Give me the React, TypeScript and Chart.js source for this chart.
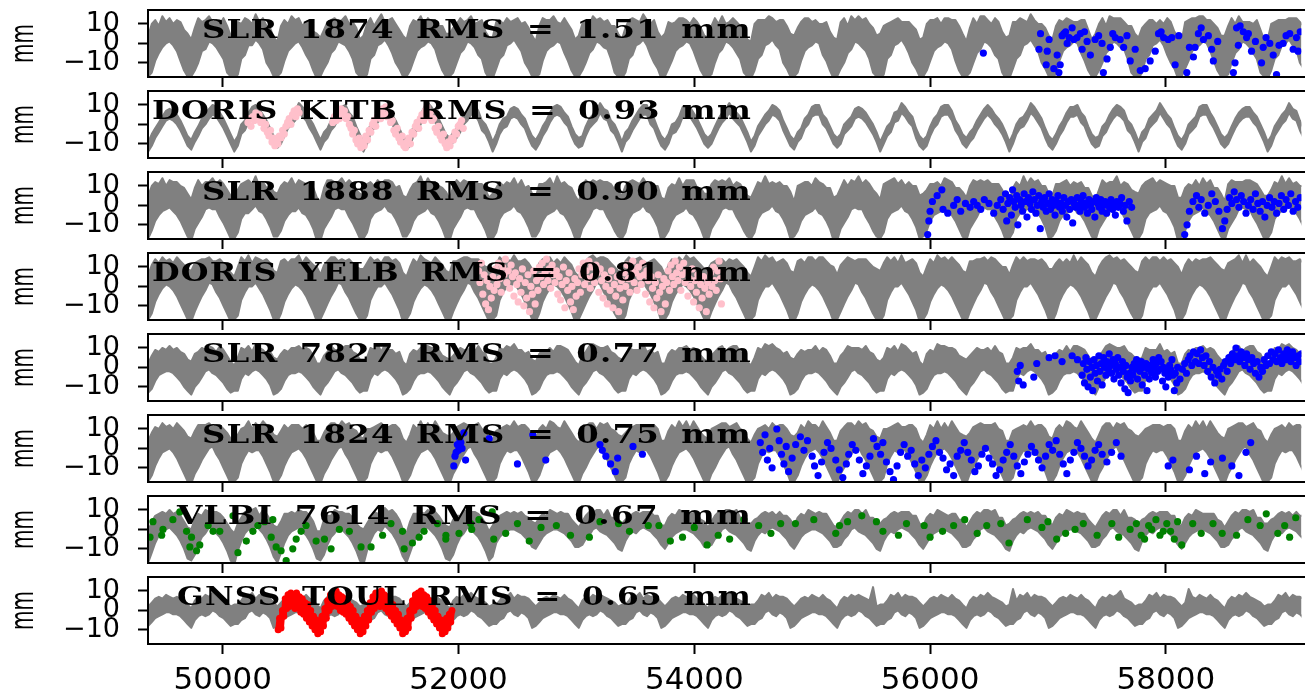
import React, { useEffect, useRef } from 'react';
import { Chart, registerables } from 'chart.js';

Chart.register(...registerables);

// ---------- axes ----------
const X_MIN = 49366;
const X_MAX = 59150;
const X_TICKS = [50000, 52000, 54000, 56000, 58000];
const Y_TICKS = [-10, 0, 10];
const Y_MIN = -17.3;
const Y_MAX = 17.2;

// ---------- time grid (MJD of 1 Jan, 1994..2020; mid-month day offsets) ----------
const YEAR_START_MJD = [49353, 49718, 50083, 50449, 50814, 51179, 51544, 51910, 52275, 52640, 53005, 53371, 53736, 54101, 54466, 54832, 55197, 55562, 55927, 56293, 56658, 57023, 57388, 57754, 58119, 58484, 58849];
const MONTH_DAY = [15, 45, 74, 105, 135, 166, 196, 227, 258, 288, 319, 349];

// ---------- model (gray) series: monthly upper / lower envelope of the daily model, mm ----------
const hiP1 = [
  4, 10, 12, 9, 14, 11, 13, 10, 12, 11, 7, 5,
  2, 8, 13, 11, 12, 14, 11, 12, 10, 13, 9, 4,
  5, 11, 10, 13, 12, 10, 15, 11, 13, 9, 8, 3,
  1, 9, 12, 10, 14, 12, 13, 9, 11, 12, 6, 5,
  3, 7, 11, 12, 13, 11, 12, 14, 10, 11, 8, 2,
  4, 10, 13, 9, 12, 15, 11, 12, 13, 10, 7, 4,
  2, 9, 12, 11, 14, 10, 13, 11, 12, 9, 9, 5,
  5, 8, 10, 13, 11, 12, 14, 10, 11, 12, 6, 3,
  3, 11, 12, 10, 13, 11, 12, 13, 10, 11, 8, 4,
  1, 9, 13, 12, 12, 14, 11, 10, 13, 10, 7, 2,
  4, 10, 11, 9, 14, 12, 13, 11, 12, 9, 9, 5,
  2, 8, 12, 13, 12, 11, 15, 12, 10, 12, 6, 3,
  5, 11, 10, 11, 13, 13, 12, 10, 13, 11, 8, 4,
  3, 9, 13, 10, 14, 10, 11, 13, 11, 9, 7, 2,
  1, 10, 12, 12, 12, 14, 13, 11, 12, 12, 9, 5,
  4, 8, 11, 13, 13, 11, 12, 10, 10, 11, 6, 3,
  2, 11, 13, 9, 14, 12, 14, 12, 13, 10, 8, 4,
  5, 9, 10, 11, 12, 13, 11, 11, 11, 9, 7, 2,
  3, 10, 12, 12, 13, 10, 13, 13, 12, 12, 9, 5,
  1, 8, 13, 10, 14, 14, 12, 10, 13, 11, 6, 3,
  4, 11, 11, 13, 12, 11, 15, 12, 10, 10, 8, 4,
  2, 9, 12, 11, 13, 12, 11, 11, 12, 12, 7, 2,
  5, 10, 13, 9, 14, 13, 13, 13, 11, 9, 9, 5,
  3, 8, 10, 12, 12, 10, 12, 10, 13, 11, 6, 3,
  1, 11, 12, 13, 13, 14, 14, 12, 12, 10, 8, 4,
  4, 9, 13, 10, 14, 11, 11, 11, 10, 12, 7, 2,
  2, 10, 11, 12, 12, 12, 13, 13, 13, 11, 9, 5,
];
const loP1 = [
  -17, -15, -9, -5, -2, 0, 1, -1, -4, -9, -14, -17,
  -17, -14, -10, -4, -3, 1, 0, -2, -5, -8, -15, -17,
  -18, -16, -8, -6, -1, -1, 2, 0, -3, -10, -13, -17,
  -17, -15, -9, -4, -2, 0, 1, -2, -6, -9, -14, -18,
  -17, -13, -10, -5, -3, 1, 0, -1, -4, -8, -15, -17,
  -18, -16, -8, -6, -1, 0, 2, -1, -5, -10, -13, -17,
  -17, -14, -9, -4, -2, -1, 1, 0, -3, -9, -14, -17,
  -17, -15, -10, -5, -3, 1, 0, -2, -6, -8, -15, -18,
  -18, -13, -8, -6, -1, 0, 2, -1, -4, -10, -13, -17,
  -17, -16, -9, -4, -2, -1, 1, 0, -5, -9, -14, -17,
  -17, -14, -10, -5, -3, 1, 0, -2, -3, -8, -15, -17,
  -18, -15, -8, -6, -1, 0, 2, -1, -6, -10, -13, -18,
  -17, -13, -9, -4, -2, -1, 1, 0, -4, -9, -14, -17,
  -17, -16, -10, -5, -3, 1, 0, -2, -5, -8, -15, -17,
  -18, -14, -8, -6, -1, 0, 2, -1, -3, -10, -13, -17,
  -17, -15, -9, -4, -2, -1, 1, 0, -6, -9, -14, -18,
  -17, -13, -10, -5, -3, 1, 0, -2, -4, -8, -15, -17,
  -18, -16, -8, -6, -1, 0, 2, -1, -5, -10, -13, -17,
  -17, -14, -9, -4, -2, -1, 1, 0, -3, -9, -14, -17,
  -17, -15, -10, -5, -3, 1, 0, -2, -6, -8, -15, -18,
  -18, -13, -8, -6, -1, 0, 2, -1, -4, -10, -13, -17,
  -17, -16, -9, -4, -2, -1, 1, 0, -5, -9, -14, -17,
  -17, -14, -10, -5, -3, 1, 0, -2, -3, -8, -15, -17,
  -18, -15, -8, -6, -1, 0, 2, -1, -6, -10, -13, -18,
  -17, -13, -9, -4, -2, -1, 1, 0, -4, -9, -14, -17,
  -17, -16, -10, -5, -3, 1, 0, -2, -5, -8, -15, -17,
  -18, -14, -8, -6, -1, 0, 2, -1, -3, -10, -13, -17,
];

const hiP2 = [
  -9, -5, -2, 1, 4, 7, 8, 7, 5, 2, -2, -6,
  -8, -4, -1, 3, 5, 8, 10, 9, 6, 3, -1, -5,
  -9, -6, 0, 2, 6, 9, 10, 8, 5, 2, -2, -6,
  -7, -5, -1, 3, 5, 7, 11, 9, 7, 3, 0, -4,
  -8, -4, -2, 2, 4, 8, 9, 10, 6, 4, -1, -5,
  -9, -5, 0, 3, 6, 8, 10, 8, 5, 2, -2, -6,
  -8, -6, -1, 2, 5, 9, 11, 9, 6, 3, -1, -5,
  -7, -4, -2, 1, 5, 7, 10, 10, 7, 2, 0, -4,
  -9, -5, 0, 3, 4, 8, 9, 8, 5, 3, -2, -6,
  -8, -5, -1, 2, 6, 9, 10, 9, 6, 4, -1, -5,
  -7, -6, -1, 3, 5, 7, 11, 8, 7, 2, 0, -4,
  -9, -4, -2, 2, 5, 8, 10, 10, 5, 3, -2, -6,
  -8, -5, 0, 1, 4, 9, 9, 9, 6, 3, -1, -5,
  -7, -5, -1, 3, 6, 8, 11, 8, 6, 4, 0, -4,
  -9, -6, -1, 2, 5, 7, 10, 9, 7, 2, -2, -6,
  -8, -4, -2, 3, 5, 9, 10, 10, 5, 3, -1, -5,
  -7, -5, 0, 2, 4, 8, 9, 8, 6, 3, 0, -4,
  -9, -5, -1, 1, 6, 7, 11, 9, 6, 4, -2, -6,
  -8, -6, -1, 3, 5, 9, 10, 10, 7, 2, -1, -5,
  -7, -4, -2, 2, 5, 8, 10, 8, 5, 3, 0, -4,
  -9, -5, 0, 3, 4, 7, 11, 9, 6, 3, -2, -6,
  -8, -5, -1, 2, 6, 9, 9, 10, 6, 4, -1, -5,
  -7, -6, -1, 1, 5, 8, 10, 9, 7, 2, 0, -4,
  -9, -4, -2, 3, 5, 7, 11, 8, 5, 3, -2, -6,
  -8, -5, 0, 2, 4, 9, 10, 10, 6, 3, -1, -5,
  -7, -5, -1, 3, 6, 8, 9, 9, 6, 4, 0, -4,
  -9, -6, -1, 2, 5, 7, 11, 8, 7, 2, -2, -6,
];
const loP2 = [
  -14, -11, -7, -4, -1, 2, 3, 2, 0, -3, -7, -11,
  -13, -9, -6, -2, 0, 3, 5, 4, 1, -2, -6, -10,
  -14, -11, -5, -3, 1, 4, 5, 3, 0, -3, -7, -11,
  -12, -10, -6, -2, 0, 2, 6, 4, 2, -2, -5, -9,
  -13, -9, -7, -3, -1, 3, 4, 5, 1, -1, -6, -10,
  -14, -10, -5, -2, 1, 3, 5, 3, 0, -3, -7, -11,
  -13, -11, -6, -3, 0, 4, 6, 4, 1, -2, -6, -10,
  -12, -9, -7, -4, 0, 2, 5, 5, 2, -3, -5, -9,
  -14, -10, -5, -2, -1, 3, 4, 3, 0, -2, -7, -11,
  -13, -10, -6, -3, 1, 4, 5, 4, 1, -1, -6, -10,
  -12, -11, -6, -2, 0, 2, 6, 3, 2, -3, -5, -9,
  -14, -9, -7, -3, 0, 3, 5, 5, 0, -2, -7, -11,
  -13, -10, -5, -4, -1, 4, 4, 4, 1, -2, -6, -10,
  -12, -10, -6, -2, 1, 3, 6, 3, 1, -1, -5, -9,
  -14, -11, -6, -3, 0, 2, 5, 4, 2, -3, -7, -11,
  -13, -9, -7, -2, 0, 4, 5, 5, 0, -2, -6, -10,
  -12, -10, -5, -3, -1, 3, 4, 3, 1, -2, -5, -9,
  -14, -10, -6, -4, 1, 2, 6, 4, 1, -1, -7, -11,
  -13, -11, -6, -2, 0, 4, 5, 5, 2, -3, -6, -10,
  -12, -9, -7, -3, 0, 3, 5, 3, 0, -2, -5, -9,
  -14, -10, -5, -2, -1, 2, 6, 4, 1, -2, -7, -11,
  -13, -10, -6, -3, 1, 4, 4, 5, 1, -1, -6, -10,
  -12, -11, -6, -4, 0, 3, 5, 4, 2, -3, -5, -9,
  -14, -9, -7, -2, 0, 2, 6, 3, 0, -2, -7, -11,
  -13, -10, -5, -3, -1, 4, 5, 5, 1, -2, -6, -10,
  -12, -10, -6, -2, 1, 3, 4, 4, 1, -1, -5, -9,
  -14, -11, -6, -3, 0, 2, 6, 3, 2, -3, -7, -11,
];

const hiP3 = [
  5, 10, 12, 11, 14, 10, 13, 12, 12, 10, 9, 6,
  3, 9, 13, 10, 12, 12, 14, 11, 13, 11, 8, 5,
  4, 8, 11, 12, 13, 11, 15, 10, 12, 9, 10, 7,
  6, 10, 12, 11, 14, 10, 13, 12, 11, 10, 9, 4,
  2, 9, 13, 13, 12, 12, 14, 11, 13, 11, 8, 6,
  5, 11, 12, 10, 13, 11, 13, 13, 12, 9, 10, 5,
  4, 8, 11, 12, 15, 10, 14, 11, 12, 10, 9, 7,
  3, 10, 13, 11, 13, 12, 12, 12, 11, 11, 8, 4,
  6, 9, 12, 10, 12, 11, 14, 10, 13, 9, 10, 6,
  4, 11, 11, 12, 14, 10, 15, 11, 12, 10, 9, 5,
  2, 8, 13, 11, 13, 12, 13, 12, 12, 11, 8, 7,
  5, 10, 12, 13, 12, 11, 14, 11, 11, 10, 10, 4,
  3, 9, 11, 10, 14, 10, 13, 13, 13, 9, 9, 6,
  6, 11, 13, 12, 13, 12, 14, 10, 12, 11, 8, 5,
  4, 8, 12, 11, 15, 11, 12, 11, 12, 10, 10, 7,
  2, 10, 11, 12, 12, 10, 14, 12, 11, 9, 9, 4,
  5, 9, 13, 10, 13, 12, 15, 11, 13, 11, 8, 6,
  3, 11, 12, 13, 14, 11, 13, 10, 12, 10, 10, 5,
  6, 8, 11, 11, 12, 10, 14, 13, 12, 9, 9, 7,
  4, 10, 13, 12, 13, 12, 13, 11, 11, 11, 8, 4,
  2, 9, 12, 10, 15, 11, 14, 12, 13, 10, 10, 6,
  5, 11, 11, 12, 13, 10, 12, 11, 12, 9, 9, 5,
  3, 8, 13, 11, 12, 12, 15, 10, 12, 11, 8, 7,
  6, 10, 12, 13, 14, 11, 13, 12, 11, 10, 10, 4,
  4, 9, 11, 10, 13, 10, 14, 11, 13, 9, 9, 6,
  2, 11, 13, 12, 12, 12, 13, 13, 12, 11, 8, 5,
  5, 8, 12, 11, 15, 11, 14, 11, 12, 10, 10, 7,
];
const loP3 = [
  -17, -13, -8, -5, -3, -2, -1, -3, -5, -8, -12, -16,
  -18, -12, -9, -6, -2, -1, -2, -2, -6, -9, -13, -17,
  -17, -14, -7, -4, -4, -2, 0, -3, -4, -7, -11, -16,
  -16, -13, -8, -5, -3, -3, -1, -4, -5, -8, -12, -18,
  -18, -12, -9, -6, -2, -1, -2, -2, -6, -9, -13, -17,
  -17, -14, -7, -4, -3, -2, 0, -3, -4, -7, -11, -16,
  -16, -13, -8, -5, -4, -3, -1, -4, -5, -8, -12, -17,
  -18, -12, -9, -6, -2, -1, -2, -2, -6, -9, -13, -18,
  -17, -14, -7, -4, -3, -2, 0, -3, -4, -7, -11, -16,
  -16, -13, -8, -5, -4, -3, -1, -4, -5, -8, -12, -17,
  -18, -12, -9, -6, -2, -1, -2, -2, -6, -9, -13, -16,
  -17, -14, -7, -4, -3, -2, 0, -3, -4, -7, -11, -18,
  -16, -13, -8, -5, -4, -3, -1, -4, -5, -8, -12, -17,
  -18, -12, -9, -6, -2, -1, -2, -2, -6, -9, -13, -16,
  -17, -14, -7, -4, -3, -2, 0, -3, -4, -7, -11, -17,
  -16, -13, -8, -5, -4, -3, -1, -4, -5, -8, -12, -18,
  -18, -12, -9, -6, -2, -1, -2, -2, -6, -9, -13, -16,
  -17, -14, -7, -4, -3, -2, 0, -3, -4, -7, -11, -17,
  -16, -13, -8, -5, -4, -3, -1, -4, -5, -8, -12, -16,
  -18, -12, -9, -6, -2, -1, -2, -2, -6, -9, -13, -18,
  -17, -14, -7, -4, -3, -2, 0, -3, -4, -7, -11, -17,
  -16, -13, -8, -5, -4, -3, -1, -4, -5, -8, -12, -16,
  -18, -12, -9, -6, -2, -1, -2, -2, -6, -9, -13, -17,
  -17, -14, -7, -4, -3, -2, 0, -3, -4, -7, -11, -18,
  -16, -13, -8, -5, -4, -3, -1, -4, -5, -8, -12, -16,
  -18, -12, -9, -6, -2, -1, -2, -2, -6, -9, -13, -17,
  -17, -14, -7, -4, -3, -2, 0, -3, -4, -7, -11, -16,
];

const hiP4 = [
  6, 11, 14, 12, 15, 13, 14, 12, 15, 13, 11, 9,
  8, 12, 13, 14, 14, 15, 13, 13, 14, 12, 10, 7,
  5, 10, 15, 13, 16, 12, 15, 14, 13, 14, 12, 8,
  7, 13, 14, 12, 14, 14, 16, 12, 15, 13, 11, 10,
  6, 11, 13, 15, 15, 13, 14, 13, 14, 12, 10, 9,
  9, 12, 15, 13, 14, 12, 15, 15, 13, 14, 12, 7,
  5, 10, 14, 12, 16, 14, 13, 12, 15, 13, 11, 8,
  7, 13, 13, 14, 15, 15, 14, 14, 14, 12, 10, 10,
  6, 11, 15, 13, 14, 13, 16, 13, 13, 14, 12, 9,
  8, 12, 14, 12, 15, 12, 14, 12, 15, 13, 11, 7,
  5, 10, 13, 15, 16, 14, 15, 15, 14, 12, 10, 8,
  7, 13, 15, 13, 14, 15, 13, 12, 13, 14, 12, 10,
  6, 11, 14, 12, 15, 13, 16, 14, 15, 13, 11, 9,
  9, 12, 13, 14, 14, 12, 14, 13, 14, 12, 10, 7,
  5, 10, 15, 13, 16, 14, 15, 12, 13, 14, 12, 8,
  7, 13, 14, 12, 15, 15, 13, 15, 15, 13, 11, 10,
  6, 11, 13, 15, 14, 13, 14, 14, 14, 12, 10, 9,
  8, 12, 15, 13, 15, 12, 16, 12, 13, 14, 12, 7,
  5, 10, 14, 12, 16, 14, 15, 13, 15, 13, 11, 8,
  7, 13, 13, 14, 14, 15, 13, 15, 14, 12, 10, 10,
  6, 11, 15, 13, 15, 13, 14, 14, 13, 14, 12, 9,
  9, 12, 14, 12, 14, 12, 16, 12, 15, 13, 11, 7,
  5, 10, 13, 15, 16, 14, 15, 13, 14, 12, 10, 8,
  7, 13, 15, 13, 15, 15, 13, 15, 13, 14, 12, 10,
  6, 11, 14, 12, 14, 13, 14, 14, 15, 13, 11, 9,
  8, 12, 13, 14, 16, 12, 16, 12, 14, 12, 10, 7,
  5, 10, 15, 13, 15, 14, 15, 13, 13, 14, 12, 8,
];
const loP4 = [
  -17, -14, -8, -4, -1, 1, 0, -2, -5, -9, -13, -17,
  -18, -13, -9, -5, -2, 2, 1, -3, -6, -10, -14, -18,
  -17, -15, -7, -3, 0, 0, 2, -1, -4, -8, -12, -17,
  -18, -14, -8, -4, -1, 1, 0, -2, -5, -9, -13, -18,
  -17, -13, -9, -5, -2, 2, 1, -3, -6, -10, -14, -17,
  -18, -15, -7, -3, 0, 0, 2, -1, -4, -8, -12, -18,
  -17, -14, -8, -4, -1, 1, 0, -2, -5, -9, -13, -17,
  -18, -13, -9, -5, -2, 2, 1, -3, -6, -10, -14, -18,
  -17, -15, -7, -3, 0, 0, 2, -1, -4, -8, -12, -17,
  -18, -14, -8, -4, -1, 1, 0, -2, -5, -9, -13, -18,
  -17, -13, -9, -5, -2, 2, 1, -3, -6, -10, -14, -17,
  -18, -15, -7, -3, 0, 0, 2, -1, -4, -8, -12, -18,
  -17, -14, -8, -4, -1, 1, 0, -2, -5, -9, -13, -17,
  -18, -13, -9, -5, -2, 2, 1, -3, -6, -10, -14, -18,
  -17, -15, -7, -3, 0, 0, 2, -1, -4, -8, -12, -17,
  -18, -14, -8, -4, -1, 1, 0, -2, -5, -9, -13, -18,
  -17, -13, -9, -5, -2, 2, 1, -3, -6, -10, -14, -17,
  -18, -15, -7, -3, 0, 0, 2, -1, -4, -8, -12, -18,
  -17, -14, -8, -4, -1, 1, 0, -2, -5, -9, -13, -17,
  -18, -13, -9, -5, -2, 2, 1, -3, -6, -10, -14, -18,
  -17, -15, -7, -3, 0, 0, 2, -1, -4, -8, -12, -17,
  -18, -14, -8, -4, -1, 1, 0, -2, -5, -9, -13, -18,
  -17, -13, -9, -5, -2, 2, 1, -3, -6, -10, -14, -17,
  -18, -15, -7, -3, 0, 0, 2, -1, -4, -8, -12, -18,
  -17, -14, -8, -4, -1, 1, 0, -2, -5, -9, -13, -17,
  -18, -13, -9, -5, -2, 2, 1, -3, -6, -10, -14, -18,
  -17, -15, -7, -3, 0, 0, 2, -1, -4, -8, -12, -17,
];

const hiP5 = [
  2, 6, 9, 8, 10, 9, 11, 9, 10, 8, 7, 4,
  3, 7, 8, 10, 9, 11, 10, 8, 11, 9, 6, 3,
  1, 5, 10, 9, 11, 8, 12, 10, 9, 7, 8, 5,
  4, 7, 9, 8, 10, 10, 11, 9, 10, 9, 6, 2,
  2, 6, 8, 11, 9, 9, 10, 11, 11, 8, 7, 4,
  3, 5, 10, 9, 12, 8, 12, 9, 9, 7, 8, 3,
  1, 7, 9, 8, 10, 11, 11, 10, 10, 9, 6, 5,
  4, 6, 8, 10, 9, 9, 10, 8, 11, 8, 7, 2,
  2, 5, 10, 9, 11, 10, 12, 9, 9, 7, 8, 4,
  3, 7, 9, 8, 10, 8, 11, 11, 10, 9, 6, 3,
  1, 6, 8, 11, 12, 11, 10, 10, 11, 8, 7, 5,
  4, 5, 10, 9, 9, 9, 12, 8, 9, 7, 8, 2,
  2, 7, 9, 8, 10, 10, 11, 9, 10, 9, 6, 4,
  3, 6, 8, 10, 11, 8, 10, 11, 11, 8, 7, 3,
  1, 5, 10, 9, 12, 11, 12, 10, 9, 7, 8, 5,
  4, 7, 9, 8, 9, 9, 11, 8, 10, 9, 6, 2,
  2, 6, 8, 11, 10, 10, 10, 9, 11, 8, 7, 4,
  3, 5, 10, 9, 11, 8, 12, 11, 9, 7, 8, 3,
  1, 7, 9, 8, 12, 11, 11, 10, 10, 9, 6, 5,
  4, 6, 8, 10, 9, 9, 10, 8, 11, 8, 7, 2,
  2, 5, 10, 9, 10, 10, 12, 9, 9, 7, 8, 4,
  3, 7, 9, 8, 11, 8, 11, 11, 10, 9, 6, 3,
  1, 6, 8, 11, 12, 11, 10, 10, 11, 8, 7, 5,
  4, 5, 10, 9, 9, 9, 12, 8, 9, 7, 8, 2,
  2, 7, 9, 8, 10, 10, 11, 9, 10, 9, 6, 4,
  3, 6, 8, 10, 11, 8, 10, 11, 11, 8, 7, 3,
  1, 5, 10, 9, 12, 11, 12, 10, 9, 7, 8, 5,
];
const loP5 = [
  -13, -11, -7, -4, -3, -2, -2, -3, -5, -7, -10, -12,
  -14, -10, -8, -5, -2, -1, -3, -4, -6, -8, -11, -13,
  -12, -12, -6, -3, -4, -2, -1, -2, -4, -6, -9, -14,
  -13, -11, -7, -4, -3, -3, -2, -3, -5, -7, -10, -12,
  -14, -10, -8, -5, -2, -1, -3, -4, -6, -8, -11, -13,
  -12, -12, -6, -3, -4, -2, -1, -2, -4, -6, -9, -14,
  -13, -11, -7, -4, -3, -3, -2, -3, -5, -7, -10, -12,
  -14, -10, -8, -5, -2, -1, -3, -4, -6, -8, -11, -13,
  -12, -12, -6, -3, -4, -2, -1, -2, -4, -6, -9, -14,
  -13, -11, -7, -4, -3, -3, -2, -3, -5, -7, -10, -12,
  -14, -10, -8, -5, -2, -1, -3, -4, -6, -8, -11, -13,
  -12, -12, -6, -3, -4, -2, -1, -2, -4, -6, -9, -14,
  -13, -11, -7, -4, -3, -3, -2, -3, -5, -7, -10, -12,
  -14, -10, -8, -5, -2, -1, -3, -4, -6, -8, -11, -13,
  -12, -12, -6, -3, -4, -2, -1, -2, -4, -6, -9, -14,
  -13, -11, -7, -4, -3, -3, -2, -3, -5, -7, -10, -12,
  -14, -10, -8, -5, -2, -1, -3, -4, -6, -8, -11, -13,
  -12, -12, -6, -3, -4, -2, -1, -2, -4, -6, -9, -14,
  -13, -11, -7, -4, -3, -3, -2, -3, -5, -7, -10, -12,
  -14, -10, -8, -5, -2, -1, -3, -4, -6, -8, -11, -13,
  -12, -12, -6, -3, -4, -2, -1, -2, -4, -6, -9, -14,
  -13, -11, -7, -4, -3, -3, -2, -3, -5, -7, -10, -12,
  -14, -10, -8, -5, -2, -1, -3, -4, -6, -8, -11, -13,
  -12, -12, -6, -3, -4, -2, -1, -2, -4, -6, -9, -14,
  -13, -11, -7, -4, -3, -3, -2, -3, -5, -7, -10, -12,
  -14, -10, -8, -5, -2, -1, -3, -4, -6, -8, -11, -13,
  -12, -12, -6, -3, -4, -2, -1, -2, -4, -6, -9, -14,
];

const hiP6 = [
  4, 8, 11, 10, 13, 11, 12, 10, 13, 11, 9, 6,
  5, 9, 12, 12, 12, 13, 11, 12, 12, 10, 8, 5,
  3, 7, 10, 11, 14, 10, 13, 11, 14, 12, 10, 7,
  6, 9, 12, 10, 12, 12, 12, 10, 12, 11, 8, 4,
  4, 8, 11, 13, 13, 11, 14, 12, 13, 10, 9, 6,
  5, 10, 10, 11, 12, 13, 11, 11, 12, 12, 10, 5,
  3, 7, 12, 10, 14, 10, 13, 10, 14, 11, 8, 7,
  6, 8, 11, 12, 13, 12, 12, 12, 13, 10, 9, 4,
  4, 9, 10, 11, 12, 11, 14, 11, 12, 12, 10, 6,
  5, 10, 12, 10, 14, 13, 11, 10, 14, 11, 8, 5,
  3, 7, 11, 13, 13, 10, 13, 12, 13, 10, 9, 7,
  6, 8, 10, 11, 12, 12, 12, 11, 12, 12, 10, 4,
  4, 9, 12, 10, 14, 11, 14, 10, 14, 11, 8, 6,
  5, 10, 11, 12, 13, 13, 11, 12, 13, 10, 9, 5,
  3, 7, 10, 11, 12, 10, 13, 11, 12, 12, 10, 7,
  6, 8, 12, 10, 14, 12, 12, 10, 14, 11, 8, 4,
  4, 9, 11, 13, 13, 11, 14, 12, 13, 10, 9, 6,
  5, 10, 10, 11, 12, 13, 11, 11, 12, 12, 10, 5,
  3, 7, 12, 10, 14, 10, 13, 10, 14, 11, 8, 7,
  6, 8, 11, 12, 13, 12, 12, 12, 13, 10, 9, 4,
  4, 9, 10, 11, 12, 11, 14, 11, 12, 12, 10, 6,
  5, 10, 12, 10, 14, 13, 11, 10, 14, 11, 8, 5,
  3, 7, 11, 13, 13, 10, 13, 12, 13, 10, 9, 7,
  6, 8, 10, 11, 12, 12, 12, 11, 12, 12, 10, 4,
  4, 9, 12, 10, 14, 11, 14, 10, 14, 11, 8, 6,
  5, 10, 11, 12, 13, 13, 11, 12, 13, 10, 9, 5,
  3, 7, 10, 11, 12, 10, 13, 11, 12, 12, 10, 7,
];
const loP6 = [
  -17, -14, -9, -5, -2, -1, 0, -2, -5, -9, -13, -17,
  -18, -13, -10, -6, -3, 0, 1, -3, -6, -10, -14, -18,
  -17, -15, -8, -4, -1, -2, -1, -1, -4, -8, -12, -17,
  -17, -14, -9, -5, -2, -1, 0, -2, -5, -9, -13, -17,
  -18, -13, -10, -6, -3, 0, 1, -3, -6, -10, -14, -18,
  -17, -15, -8, -4, -1, -2, -1, -1, -4, -8, -12, -17,
  -17, -14, -9, -5, -2, -1, 0, -2, -5, -9, -13, -17,
  -18, -13, -10, -6, -3, 0, 1, -3, -6, -10, -14, -18,
  -17, -15, -8, -4, -1, -2, -1, -1, -4, -8, -12, -17,
  -17, -14, -9, -5, -2, -1, 0, -2, -5, -9, -13, -17,
  -18, -13, -10, -6, -3, 0, 1, -3, -6, -10, -14, -18,
  -17, -15, -8, -4, -1, -2, -1, -1, -4, -8, -12, -17,
  -17, -14, -9, -5, -2, -1, 0, -2, -5, -9, -13, -17,
  -18, -13, -10, -6, -3, 0, 1, -3, -6, -10, -14, -18,
  -17, -15, -8, -4, -1, -2, -1, -1, -4, -8, -12, -17,
  -17, -14, -9, -5, -2, -1, 0, -2, -5, -9, -13, -17,
  -18, -13, -10, -6, -3, 0, 1, -3, -6, -10, -14, -18,
  -17, -15, -8, -4, -1, -2, -1, -1, -4, -8, -12, -17,
  -17, -14, -9, -5, -2, -1, 0, -2, -5, -9, -13, -17,
  -18, -13, -10, -6, -3, 0, 1, -3, -6, -10, -14, -18,
  -17, -15, -8, -4, -1, -2, -1, -1, -4, -8, -12, -17,
  -17, -14, -9, -5, -2, -1, 0, -2, -5, -9, -13, -17,
  -18, -13, -10, -6, -3, 0, 1, -3, -6, -10, -14, -18,
  -17, -15, -8, -4, -1, -2, -1, -1, -4, -8, -12, -17,
  -17, -14, -9, -5, -2, -1, 0, -2, -5, -9, -13, -17,
  -18, -13, -10, -6, -3, 0, 1, -3, -6, -10, -14, -18,
  -17, -15, -8, -4, -1, -2, -1, -1, -4, -8, -12, -17,
];

const hiP7 = [
  -1, 4, 7, 8, 9, 8, 10, 8, 9, 7, 4, 1,
  0, 5, 8, 7, 10, 9, 9, 9, 8, 6, 3, 0,
  -2, 3, 6, 9, 8, 10, 11, 7, 10, 8, 5, 2,
  1, 4, 8, 8, 9, 8, 10, 9, 9, 7, 4, -1,
  -1, 5, 7, 7, 10, 9, 9, 8, 8, 6, 3, 1,
  0, 3, 6, 9, 8, 10, 11, 9, 10, 8, 5, 0,
  -2, 4, 8, 8, 9, 8, 10, 7, 9, 7, 4, 2,
  1, 5, 7, 7, 10, 9, 9, 9, 8, 6, 3, -1,
  2, 5, 7, 8, 9, 8, 9, 8, 9, 7, 6, 4,
  3, 6, 8, 7, 10, 9, 8, 9, 8, 8, 5, 3,
  1, 4, 7, 9, 8, 10, 10, 7, 10, 6, 6, 5,
  3, 5, 6, 8, 9, 8, 9, 9, 9, 7, 7, 2,
  2, 6, 8, 7, 10, 9, 8, 8, 8, 8, 5, 4,
  1, 4, 7, 9, 8, 10, 10, 9, 10, 6, 6, 3,
  3, 5, 6, 8, 9, 8, 9, 7, 9, 7, 7, 5,
  2, 6, 8, 7, 10, 9, 8, 9, 8, 8, 5, 2,
  1, 4, 7, 9, 8, 10, 10, 8, 10, 6, 6, 4,
  3, 5, 6, 8, 9, 8, 9, 9, 9, 7, 7, 3,
  2, 6, 8, 7, 10, 9, 8, 7, 8, 8, 5, 5,
  1, 4, 7, 9, 8, 10, 10, 9, 10, 6, 6, 2,
  3, 5, 6, 8, 9, 8, 9, 8, 9, 7, 7, 4,
  2, 6, 8, 7, 10, 9, 8, 9, 8, 8, 5, 3,
  1, 4, 7, 9, 8, 10, 10, 7, 10, 6, 6, 5,
  3, 5, 6, 8, 9, 8, 9, 9, 9, 7, 7, 2,
  2, 6, 8, 7, 10, 9, 8, 8, 8, 8, 5, 4,
  1, 4, 7, 9, 8, 10, 10, 9, 10, 6, 6, 3,
  3, 5, 6, 8, 9, 8, 9, 7, 9, 7, 7, 5,
];
const loP7 = [
  -17, -12, -7, -3, -1, 0, 1, -1, -3, -6, -10, -15,
  -16, -13, -8, -4, -2, 1, 0, -2, -4, -7, -11, -16,
  -18, -11, -6, -2, 0, -1, 2, 0, -2, -5, -9, -14,
  -17, -12, -7, -3, -1, 0, 1, -1, -3, -6, -10, -15,
  -16, -13, -8, -4, -2, 1, 0, -2, -4, -7, -11, -16,
  -18, -11, -6, -2, 0, -1, 2, 0, -2, -5, -9, -14,
  -17, -12, -7, -3, -1, 0, 1, -1, -3, -6, -10, -15,
  -16, -13, -8, -4, -2, 1, 0, -2, -4, -7, -11, -16,
  -14, -7, -4, -2, -1, 0, 0, -1, -2, -4, -6, -9,
  -10, -7, -4, -2, -1, 0, 0, -1, -2, -4, -6, -9,
  -9, -8, -5, -3, 0, 1, -1, -2, -3, -5, -7, -10,
  -11, -6, -3, -1, -2, 0, 1, 0, -1, -3, -5, -8,
  -10, -7, -4, -2, -1, 0, 0, -1, -2, -4, -6, -9,
  -9, -8, -5, -3, 0, 1, -1, -2, -3, -5, -7, -10,
  -11, -6, -3, -1, -2, 0, 1, 0, -1, -3, -5, -8,
  -10, -7, -4, -2, -1, 0, 0, -1, -2, -4, -6, -9,
  -9, -8, -5, -3, 0, 1, -1, -2, -3, -5, -7, -10,
  -11, -6, -3, -1, -2, 0, 1, 0, -1, -3, -5, -8,
  -10, -7, -4, -2, -1, 0, 0, -1, -2, -4, -6, -9,
  -9, -8, -5, -3, 0, 1, -1, -2, -3, -5, -7, -10,
  -11, -6, -3, -1, -2, 0, 1, 0, -1, -3, -5, -8,
  -10, -7, -4, -2, -1, 0, 0, -1, -2, -4, -6, -9,
  -9, -8, -5, -3, 0, 1, -1, -2, -3, -5, -7, -10,
  -11, -6, -3, -1, -2, 0, 1, 0, -1, -3, -5, -8,
  -10, -7, -4, -2, -1, 0, 0, -1, -2, -4, -6, -9,
  -9, -8, -5, -3, 0, 1, -1, -2, -3, -5, -7, -10,
  -11, -6, -3, -1, -2, 0, 1, 0, -1, -3, -5, -8,
];

const hiP8 = [
  2, 4, 6, 7, 6, 8, 7, 6, 7, 6, 5, 3,
  1, 5, 7, 6, 8, 7, 9, 7, 6, 5, 4, 2,
  3, 3, 5, 8, 7, 9, 6, 8, 7, 7, 6, 4,
  2, 4, 6, 7, 6, 8, 7, 6, 8, 6, 5, 3,
  1, 5, 7, 6, 8, 7, 8, 7, 6, 5, 4, 2,
  3, 3, 5, 8, 7, 9, 6, 8, 7, 7, 6, 4,
  2, 4, 6, 7, 6, 8, 7, 6, 8, 6, 5, 3,
  1, 5, 7, 6, 8, 7, 9, 7, 6, 5, 4, 2,
  3, 3, 5, 8, 7, 9, 6, 8, 7, 7, 6, 4,
  2, 4, 6, 7, 6, 8, 7, 6, 8, 6, 5, 3,
  1, 5, 7, 6, 8, 7, 8, 7, 6, 5, 4, 2,
  3, 3, 5, 8, 7, 9, 6, 8, 7, 7, 6, 4,
  2, 4, 6, 7, 6, 8, 7, 6, 8, 6, 5, 3,
  1, 5, 7, 6, 8, 7, 9, 7, 6, 5, 4, 2,
  3, 3, 5, 8, 7, 9, 6, 8, 7, 7, 6, 4,
  2, 4, 6, 7, 6, 8, 7, 6, 8, 6, 5, 3,
  1, 5, 7, 6, 8, 7, 8, 7, 6, 5, 12, 2,
  3, 3, 5, 8, 7, 9, 6, 8, 7, 7, 6, 4,
  2, 4, 6, 7, 6, 8, 7, 6, 8, 6, 5, 3,
  1, 5, 7, 6, 8, 7, 9, 7, 6, 5, 4, 2,
  3, 11, 5, 8, 7, 9, 6, 8, 7, 7, 6, 4,
  2, 4, 6, 7, 6, 8, 7, 6, 8, 6, 5, 3,
  1, 5, 7, 6, 8, 7, 8, 10, 6, 5, 4, 2,
  3, 3, 5, 8, 7, 9, 6, 8, 7, 7, 6, 4,
  2, 4, 11, 7, 6, 8, 7, 6, 8, 6, 5, 3,
  1, 5, 7, 6, 8, 7, 9, 7, 6, 5, 4, 2,
  3, 3, 5, 8, 7, 9, 6, 8, 7, 7, 6, 4,
];
const loP8 = [
  -8, -6, -4, -3, -2, -1, -1, -2, -2, -3, -5, -7,
  -9, -5, -3, -2, -3, -2, 0, -1, -3, -4, -6, -8,
  -7, -7, -5, -4, -1, 0, -2, -3, -1, -2, -4, -9,
  -8, -6, -4, -3, -2, -1, -1, -2, -2, -3, -5, -7,
  -9, -5, -3, -2, -3, -2, 0, -1, -3, -4, -6, -8,
  -7, -7, -5, -4, -1, 0, -2, -3, -1, -2, -4, -9,
  -8, -6, -4, -3, -2, -1, -1, -2, -2, -3, -5, -7,
  -9, -5, -3, -2, -3, -2, 0, -1, -3, -4, -6, -8,
  -7, -7, -5, -4, -1, 0, -2, -3, -1, -2, -4, -9,
  -8, -6, -4, -3, -2, -1, -1, -2, -2, -3, -5, -7,
  -9, -5, -3, -2, -3, -2, 0, -1, -3, -4, -6, -8,
  -7, -7, -5, -4, -1, 0, -2, -3, -1, -2, -4, -9,
  -8, -6, -4, -3, -2, -1, -1, -2, -2, -3, -5, -7,
  -9, -5, -3, -2, -3, -2, 0, -1, -3, -4, -6, -8,
  -7, -7, -5, -4, -1, 0, -2, -3, -1, -2, -4, -9,
  -8, -6, -4, -3, -2, -1, -1, -2, -2, -3, -5, -7,
  -9, -5, -3, -2, -3, -2, 0, -1, -3, -4, -6, -8,
  -7, -7, -5, -4, -1, 0, -2, -3, -1, -2, -4, -9,
  -8, -6, -4, -3, -2, -1, -1, -2, -2, -3, -5, -7,
  -9, -5, -3, -2, -3, -2, 0, -1, -3, -4, -6, -8,
  -7, -7, -5, -4, -1, 0, -2, -3, -1, -2, -4, -9,
  -8, -6, -4, -3, -2, -1, -1, -2, -2, -3, -5, -7,
  -9, -5, -3, -2, -3, -2, 0, -1, -3, -4, -6, -8,
  -7, -7, -5, -4, -1, 0, -2, -3, -1, -2, -4, -9,
  -8, -6, -4, -3, -2, -1, -1, -2, -2, -3, -5, -7,
  -9, -5, -3, -2, -3, -2, 0, -1, -3, -4, -6, -8,
  -7, -7, -5, -4, -1, 0, -2, -3, -1, -2, -4, -9,
];

// ---------- technique observations [MJD, mm] ----------
const slr1874 = [[56452,-5],[56924,-3],[56937,5],[56985,-11],[56994,-4],[57010,2],[57050,-13],[57078,-6],[57093,-15],[57104,-11],[57120,4],[57135,5],[57150,6],[57163,0],[57180,3],[57205,8],[57220,2],[57247,3],[57275,5],[57290,-3],[57310,6],[57332,1],[57360,-6],[57400,2],[57430,4],[57459,0],[57470,-15],[57501,-8],[57529,-2],[57550,5],[57571,3],[57613,2],[57642,-2],[57670,4],[57698,-9],[57740,-3],[57783,-14],[57825,-13],[57867,-9],[57910,-4],[57938,5],[57960,6],[57981,3],[58020,2],[58051,3],[58079,-11],[58110,4],[58178,-15],[58200,-2],[58234,-7],[58248,-2],[58276,5],[58300,8],[58319,2],[58361,4],[58389,-3],[58403,-9],[58440,1],[58573,-15],[58587,-10],[58600,8],[58615,-1],[58630,9],[58657,6],[58685,3],[58700,5],[58727,-4],[58760,1],[58812,-10],[58826,-2],[58850,3],[58882,0],[58911,-6],[58939,-16],[58960,-1],[58995,0],[59020,4],[59051,5],[59080,-3],[59108,3],[59122,-4],[59140,6]];

const dorisKitb = [[50214,1],[50228,3],[50240,-1],[50255,4],[50268,2],[50280,6],[50295,3],[50308,5],[50322,1],[50336,2],[50350,-2],[50364,0],[50378,-4],[50392,-6],[50405,-3],[50418,-9],[50430,-7],[50442,-11],[50455,-8],[50468,-10],[50480,-6],[50494,-7],[50508,-3],[50522,-5],[50536,-1],[50550,1],[50564,3],[50578,0],[50592,5],[50606,7],[50620,4],[50634,8],[50648,6],
  [50933,1],[50948,4],[50962,2],[50976,6],[50990,3],[51004,8],[51018,5],[51032,7],[51046,3],[51060,4],[51074,0],[51088,-2],[51102,-5],[51116,-3],[51130,-8],[51144,-10],[51158,-7],[51172,-12],[51186,-9],[51200,-11],[51214,-6],[51228,-8],[51242,-3],[51256,-4],[51270,0],[51284,2],[51298,-1],[51312,4],[51326,6],[51340,3],[51354,8],[51368,5],[51382,9],[51396,4],[51410,6],[51424,1],[51438,2],[51452,-3],[51466,-5],[51480,-2],[51494,-7],[51508,-9],[51522,-6],[51536,-11],[51550,-12],[51564,-9],[51578,-7],[51592,-10],[51606,-4],[51620,-5],[51634,-1],[51648,1],[51662,-2],[51676,3],[51690,5],[51704,2],[51718,7],[51732,9],[51746,4],[51760,6],[51774,2],[51788,3],[51802,-2],[51816,-4],[51830,-1],[51844,-6],[51858,-8],[51872,-5],[51886,-10],[51900,-12],[51914,-9],[51928,-11],[51942,-7],[51956,-8],[51970,-4],[51984,-5],[51998,-1],[52012,0],[52026,2],[52040,-2]];

const slr1888 = [[55980,-15],[55990,-8],[56000,-3],[56020,2],[56060,5],[56100,8],[56110,-2],[56150,-4],[56200,0],[56230,3],[56260,-3],[56300,1],[56340,-1],[56370,2],[56400,0],[56430,-2],[56460,3],[56500,1],[56540,-4],[56570,0],
  [56600,3],[56620,-2],[56640,6],[56650,-8],[56660,1],[56675,4],[56690,-5],[56700,8],[56710,2],[56722,-1],[56735,5],[56745,-10],[56760,3],[56772,0],[56785,-3],[56798,6],[56810,2],[56822,-6],[56835,4],[56848,1],[56860,-2],[56872,7],[56885,3],[56898,-4],[56910,0],[56922,5],[56935,-12],[56947,2],[56960,-1],[56972,4],[56985,-3],[56998,1],[57010,6],[57022,-2],[57035,3],[57048,0],[57060,-5],[57072,2],[57085,5],[57098,-1],[57110,1],[57122,-3],[57135,4],[57148,0],[57160,-6],[57172,2],[57185,-2],[57198,3],[57210,-9],[57222,1],[57235,-1],[57248,4],[57260,0],[57272,-3],[57285,2],[57298,5],[57310,-1],[57322,1],[57335,-4],[57348,3],[57360,0],[57372,-2],[57385,2],[57398,-6],[57410,4],[57422,1],[57435,-1],[57448,3],[57460,-3],[57472,0],[57485,2],[57498,-4],[57510,1],[57522,-1],[57535,3],[57548,-2],[57560,0],[57572,-5],[57585,2],[57598,-1],[57610,1],[57625,4],[57640,-3],[57655,0],[57670,-8],[57690,2],[57710,-1],
  [58160,-15],[58180,-10],[58200,-3],[58230,2],[58260,5],[58280,-1],[58300,3],[58330,-4],[58360,0],[58390,6],[58420,2],[58450,-3],[58480,-12],[58500,-8],[58520,-2],[58540,4],[58560,1],[58580,7],[58600,3],[58620,-1],[58640,5],[58660,2],[58680,-4],[58700,0],[58720,3],[58740,-2],[58760,6],[58780,1],[58800,-3],[58820,2],[58840,-6],[58860,0],[58880,4],[58900,-1],[58920,2],[58940,-4],[58960,1],[58980,5],[59000,-2],[59020,3],[59040,0],[59060,6],[59080,-3],[59100,2],[59120,-1],[59140,4]];

const dorisYelb = [[52170,8],[52182,2],[52194,12],[52206,-4],[52218,6],[52230,-9],[52242,3],[52254,-12],[52266,0],[52278,-6],[52290,5],[52302,-2],[52314,9],[52326,1],[52338,12],[52350,4],[52362,-3],[52374,10],[52386,6],[52398,14],[52410,2],[52422,8],[52434,-1],[52446,11],[52458,5],[52470,-5],[52482,7],[52494,1],[52506,-8],[52518,4],[52530,-3],[52542,9],[52554,-10],[52566,2],[52578,-6],[52590,6],[52602,-13],[52614,0],[52626,-4],[52638,8],[52650,-9],[52662,3],[52674,-2],[52686,10],[52698,5],[52710,12],[52722,1],[52734,7],[52746,14],[52758,3],[52770,9],[52782,-1],[52794,11],[52806,6],[52818,2],[52830,8],[52842,-4],[52854,5],[52866,-7],[52878,1],[52890,10],[52902,-11],[52914,3],[52926,-2],[52938,7],[52950,-8],[52962,0],[52974,-12],[52986,4],[52998,-5],[53010,2],[53022,9],[53034,-3],[53046,6],[53058,12],[53070,1],[53082,8],[53094,4],[53106,13],[53118,-1],[53130,10],[53142,5],[53154,2],[53166,11],[53178,7],[53190,-3],[53202,9],[53214,3],[53226,-6],[53238,6],[53250,0],[53262,-9],[53274,4],[53286,-2],[53298,8],[53310,-11],[53322,1],[53334,-5],[53346,5],[53358,-13],[53370,-1],[53382,3],[53394,-7],[53406,7],[53418,0],[53430,11],[53442,4],[53454,-3],[53466,9],[53478,13],[53490,2],[53502,7],[53514,-2],[53526,10],[53538,5],[53550,1],[53562,12],[53574,6],[53586,-4],[53598,8],[53610,3],[53622,-8],[53634,5],[53646,-1],[53658,-11],[53670,2],[53682,-6],[53694,6],[53706,-3],[53718,-13],[53730,0],[53742,4],[53754,-9],[53766,2],[53778,8],[53790,-2],[53802,11],[53814,5],[53826,1],[53838,13],[53850,7],[53862,3],[53874,10],[53886,-2],[53898,6],[53910,12],[53922,2],[53934,8],[53946,-5],[53958,4],[53970,0],[53982,9],[53994,-8],[54006,3],[54018,-3],[54030,6],[54042,-11],[54054,1],[54066,-6],[54078,5],[54090,-1],[54102,-13],[54114,2],[54126,-4],[54138,7],[54150,0],[54162,10],[54174,3],[54186,-2],[54198,8],[54210,13],[54222,4],[54230,-9]];

const slr7827 = [[56740,-2],[56752,-7],[56765,1],[56790,-9],[56880,-5],[56905,2],[57010,5],[57060,6],[57120,3],[57205,6],[57250,4],[57290,-4],[57300,2],[57310,-8],[57322,5],[57330,-1],[57340,-10],[57352,3],[57360,-5],[57372,0],[57380,-12],[57392,4],[57400,-3],[57412,1],[57420,-7],[57432,6],[57440,-2],[57452,2],[57460,-9],[57472,5],[57480,0],[57492,-4],[57500,3],[57512,-1],[57520,7],[57532,1],[57540,-3],[57552,4],[57560,-6],[57572,2],[57580,-1],[57592,5],[57600,-4],[57612,0],[57620,-8],[57632,3],[57640,-2],[57652,-11],[57660,1],[57672,-5],[57680,-13],[57692,-3],[57700,-7],[57712,0],[57720,-4],[57732,2],[57740,-1],[57752,4],[57760,-6],[57772,1],[57780,-2],[57792,3],[57800,-9],[57812,0],[57820,-4],[57832,2],[57840,-12],[57852,-1],[57860,-6],[57872,1],[57880,-3],[57892,4],[57900,0],[57912,-5],[57920,2],[57932,-2],[57940,5],[57952,-1],[57960,3],[57972,-7],[57980,0],[57992,-3],[58000,-10],[58012,-2],[58020,-5],[58032,1],[58040,-1],[58052,4],[58060,-4],[58072,-12],[58080,-3],[58092,-8],[58100,0],[58120,-6],[58140,-1],[58160,2],[58175,-3],[58190,4],[58205,6],[58220,1],[58235,8],[58250,3],[58265,7],[58280,2],[58295,9],[58310,5],[58325,1],[58340,6],[58355,-2],[58370,3],[58385,-5],[58400,0],[58415,-8],[58430,-2],[58445,-4],[58460,-1],[58475,-6],[58490,1],[58505,3],[58520,-2],[58535,5],[58550,2],[58565,7],[58580,4],[58595,10],[58610,6],[58625,3],[58640,8],[58655,5],[58670,1],[58685,7],[58700,4],[58715,-1],[58730,5],[58745,2],[58760,-3],[58775,3],[58790,-5],[58805,0],[58820,-2],[58835,4],[58850,1],[58865,6],[58880,2],[58895,8],[58910,4],[58925,7],[58940,3],[58955,9],[58970,5],[58985,2],[59000,7],[59015,4],[59030,9],[59045,6],[59060,3],[59075,8],[59090,5],[59105,1],[59120,6],[59135,3],[59150,7]];

const slr1824 = [[51960,-9],[51970,-4],[51980,-2],[51990,2],[52000,-1],[52010,5],[52020,3],[52030,0],[52045,8],[52060,-6],[52260,5],[52500,-8],[52630,7],[52740,-6],[53200,2],[53220,-1],[53250,-4],[53290,-8],[53330,-12],[53350,-5],[53480,1],[53560,-3],
  [54560,3],[54580,-2],[54600,7],[54620,-6],[54640,0],[54660,-10],[54700,10],[54720,4],[54740,-3],[54760,-8],[54780,1],[54800,-12],[54830,-5],[54860,2],[54900,6],[54930,-1],[54960,4],[55000,-4],[55020,-9],[55050,-14],[55080,-7],[55100,-2],[55130,3],[55160,0],[55200,-6],[55230,-11],[55260,-15],[55290,-8],[55310,-3],[55340,2],[55370,-1],[55400,-6],[55430,-13],[55460,-9],[55490,-4],[55520,5],[55550,1],[55580,-3],[55600,3],[55630,-7],[55660,-12],[55690,-16],[55720,-9],[55750,-2],[55780,2],[55810,-4],[55840,-1],[55870,-8],[55900,-14],[55930,-6],[55960,-10],[55990,-3],[56020,1],[56050,4],[56080,-2],[56110,-5],[56140,-11],[56170,-8],[56200,-14],[56230,-4],[56260,-1],[56290,3],[56320,-2],[56350,-6],[56380,-12],[56410,-9],[56440,-3],[56470,0],[56500,-5],[56530,-8],[56560,-14],[56590,-11],[56620,-6],[56650,-2],[56680,2],[56710,-4],[56740,-9],[56770,-13],[56800,-7],[56830,-3],[56860,1],[56890,-2],[56920,-6],[56950,-10],[56980,-4],[57010,2],[57040,-1],[57070,4],[57100,-3],[57130,-8],[57160,-13],[57190,-6],[57220,-2],[57250,3],[57280,0],[57310,-4],[57340,-9],[57370,-6],[57400,-1],[57430,2],[57460,-3],[57500,-7],[57540,-2],[57580,3],[57620,-4],
  [58020,-9],[58060,-6],[58200,-11],[58260,-4],[58330,-13],[58380,-7],[58480,-5],[58560,-9],[58620,-14],[58680,-2],[58720,3]];

const vlbi7614 = [[49383,-4],[49408,4],[49482,-3],[49493,0],[49577,5],[49636,9],[49693,-1],[49721,-9],[49735,-4],[49778,-11],[49805,-8],[49876,2],[49918,-1],[49975,-1],[50087,7],[50129,-12],[50200,-6],[50256,-1],[50298,2],[50355,4],[50411,-4],[50425,5],[50453,-9],[50495,-11],[50538,-16],[50594,-10],[50623,-5],[50665,-1],[50707,2],[50792,-6],[50863,-5],[50919,-10],[50989,0],[51074,-1],[51173,-9],[51258,-9],[51356,-3],[51427,3],[51525,-1],[51539,-10],[51609,-7],[51666,-4],[51708,-1],[51821,3],[51892,-5],[51893,-3],[52004,-2],[52103,3],[52112,0],[52173,5],[52286,9],[52299,-5],[52400,-2],[52500,3],[52600,-6],[52700,1],[52830,2],[52950,-3],[53110,-4],[53200,4],[53357,3],[53450,-1],[53610,2],[53700,2],[53797,-6],[53900,-4],[54000,1],[54109,-8],[54203,-3],[54300,-5],[54421,5],[54546,2],[54650,-2],[54733,3],[54858,3],[55014,5],[55200,-2],[55232,2],[55300,4],[55421,7],[55545,4],[55600,-1],[55732,-3],[55800,3],[55950,2],[56000,-4],[56106,-1],[56200,2],[56294,5],[56400,-2],[56481,2],[56600,3],[56669,-7],[56825,5],[56949,1],[57000,4],[57074,-5],[57150,-2],[57230,0],[57300,3],[57417,-3],[57542,3],[57600,-4],[57697,0],[57750,3],[57791,-3],[57820,-5],[57854,2],[57880,0],[57916,5],[57950,-3],[57978,-1],[58008,3],[58040,-1],[58072,-5],[58100,4],[58135,-8],[58228,3],[58300,-2],[58400,3],[58478,-2],[58600,-3],[58696,5],[58800,2],[58852,8],[58950,-2],[59008,2],[59050,-4],[59102,6]];

const gnssToul = [[50470,-10],[50482,-4],[50494,-9],[50506,0],[50518,-3],[50530,6],[50542,1],[50554,8],[50566,2],[50578,9],[50590,3],[50602,8],[50614,1],[50626,9],[50638,2],[50650,7],[50662,-1],[50674,6],[50686,-2],[50698,4],[50710,-4],[50722,3],[50734,-6],[50746,0],[50758,-8],[50770,-3],[50782,-10],[50794,-5],[50806,-12],[50818,-7],[50830,-11],[50842,-3],[50854,-8],[50866,1],[50878,-4],[50890,5],[50902,0],[50914,8],[50926,2],[50938,9],[50950,3],[50962,10],[50974,2],[50986,8],[50998,0],[51010,7],[51022,-1],[51034,6],[51046,-2],[51058,4],[51070,-4],[51082,2],[51094,-6],[51106,0],[51118,-8],[51130,-3],[51142,-10],[51154,-5],[51166,-12],[51178,-6],[51190,-11],[51202,-3],[51214,-8],[51226,0],[51238,-5],[51250,4],[51262,-1],[51274,7],[51286,1],[51298,9],[51310,3],[51322,8],[51334,2],[51346,10],[51358,3],[51370,8],[51382,1],[51394,7],[51406,-1],[51418,5],[51430,-3],[51442,3],[51454,-5],[51466,0],[51478,-7],[51490,-2],[51502,-9],[51514,-5],[51526,-12],[51538,-7],[51550,-11],[51562,-4],[51574,-9],[51586,0],[51598,-4],[51610,5],[51622,0],[51634,8],[51646,2],[51658,9],[51670,3],[51682,10],[51694,2],[51706,8],[51718,1],[51730,7],[51742,-1],[51754,5],[51766,-3],[51778,3],[51790,-5],[51802,0],[51814,-7],[51826,-3],[51838,-9],[51850,-5],[51862,-12],[51874,-7],[51886,-11],[51898,-4],[51910,-9],[51922,-2],[51934,-6],[51944,0]];

const PANEL_TITLES = [
  'SLR 1874 RMS = 1.51 mm',
  'DORIS KITB RMS = 0.93 mm',
  'SLR 1888 RMS = 0.90 mm',
  'DORIS YELB RMS = 0.81 mm',
  'SLR 7827 RMS = 0.77 mm',
  'SLR 1824 RMS = 0.75 mm',
  'VLBI 7614 RMS = 0.67 mm',
  'GNSS TOUL RMS = 0.65 mm',
];
const PANEL_HI = [hiP1, hiP2, hiP3, hiP4, hiP5, hiP6, hiP7, hiP8];
const PANEL_LO = [loP1, loP2, loP3, loP4, loP5, loP6, loP7, loP8];
const PANEL_POINTS = [slr1874, dorisKitb, slr1888, dorisYelb, slr7827, slr1824, vlbi7614, gnssToul];
const PANEL_COLORS = ['#0000ff', '#ffc0cb', '#0000ff', '#ffc0cb', '#0000ff', '#0000ff', '#008000', '#ff0000'];
const PANEL_LINE = [false, false, false, false, false, false, false, true];

// ---------- layout ----------
const CANVAS_W = 1305;
const AXIS_W = 148;
const PANEL_TOP0 = 10;
const PANEL_STEP = 81;
const PANEL_H = 67;
const PAD_T = 40;
const XAXIS_H = 40;
const XAXIS_H_LAST = 60;
const GRAY = '#808080';

function monthly(values: number[]) {
  const out: { x: number; y: number }[] = [];
  YEAR_START_MJD.forEach((y0, yi) => {
    MONTH_DAY.forEach((d, mi) => {
      out.push({ x: y0 + d, y: values[yi * 12 + mi] });
    });
  });
  return out;
}

function Panel({ index }: { index: number }) {
  const ref = useRef<HTMLCanvasElement | null>(null);
  const isLast = index === PANEL_TITLES.length - 1;
  const axisH = isLast ? XAXIS_H_LAST : XAXIS_H;
  const panelTop = PANEL_TOP0 + PANEL_STEP * index;
  const height = PAD_T + PANEL_H + axisH;

  useEffect(() => {
    const pts = PANEL_POINTS[index].map(([x, y]) => ({ x, y }));
    const color = PANEL_COLORS[index];
    const title = PANEL_TITLES[index];
    const line = PANEL_LINE[index];

    const framePlugin = {
      id: 'frameAndText',
      afterDatasetsDraw(chart: any) {
        const { ctx, chartArea } = chart;
        const { left, top, right, bottom } = chartArea;
        ctx.save();
        ctx.strokeStyle = '#000';
        ctx.lineWidth = 2;
        ctx.beginPath();
        ctx.moveTo(right + 4, top);
        ctx.lineTo(left, top);
        ctx.lineTo(left, bottom);
        ctx.lineTo(right + 4, bottom);
        ctx.stroke();
        ctx.restore();

        ctx.save();
        ctx.font = 'bold 26px "DejaVu Serif"';
        ctx.fillStyle = '#000';
        ctx.textAlign = 'right';
        ctx.textBaseline = 'alphabetic';
        try {
          (ctx as any).letterSpacing = '1px';
          (ctx as any).wordSpacing = '7px';
        } catch (e) {
          /* not supported */
        }
        const w = ctx.measureText(title).width;
        ctx.translate(752, top + 27.5);
        ctx.scale((title.length * 25) / w, 1);
        ctx.fillText(title, 0, 0);
        ctx.restore();

        ctx.save();
        ctx.font = '20px "DejaVu Sans"';
        ctx.fillStyle = '#000';
        ctx.textAlign = 'center';
        ctx.textBaseline = 'alphabetic';
        ctx.translate(33, (top + bottom) / 2);
        ctx.rotate(-Math.PI / 2);
        ctx.scale(1, 1.6);
        ctx.fillText('mm', 0, 0);
        ctx.restore();
      },
    };

    const chart = new Chart(ref.current as HTMLCanvasElement, {
      type: 'scatter',
      data: {
        datasets: [
          {
            data: pts,
            showLine: line,
            borderColor: color,
            backgroundColor: color,
            borderWidth: line ? 6 : 0,
            pointRadius: line ? 3.5 : 3.6,
            pointBorderWidth: 0,
            pointHoverRadius: 0,
            borderJoinStyle: 'round',
            clip: 0,
            order: 0,
          },
          {
            data: monthly(PANEL_LO[index]),
            showLine: true,
            borderColor: GRAY,
            backgroundColor: GRAY,
            borderWidth: 2,
            pointRadius: 0,
            pointHoverRadius: 0,
            borderJoinStyle: 'round',
            fill: false,
            clip: 0,
            order: 1,
          },
          {
            data: monthly(PANEL_HI[index]),
            showLine: true,
            borderColor: GRAY,
            backgroundColor: GRAY,
            borderWidth: 2,
            pointRadius: 0,
            pointHoverRadius: 0,
            borderJoinStyle: 'round',
            fill: 1,
            clip: 0,
            order: 1,
          },
        ],
      },
      options: {
        responsive: false,
        animation: false,
        events: [],
        layout: { padding: { top: PAD_T, left: 0, right: 0, bottom: 0 } },
        plugins: { legend: { display: false }, tooltip: { enabled: false } },
        scales: {
          x: {
            type: 'linear',
            min: X_MIN,
            max: X_MAX,
            afterBuildTicks: (s: any) => {
              s.ticks = X_TICKS.map((v) => ({ value: v }));
            },
            afterFit: (s: any) => {
              s.height = axisH;
            },
            border: { display: false },
            grid: { drawOnChartArea: false, drawTicks: true, tickLength: 10, tickWidth: 2, tickColor: '#000' },
            ticks: {
              display: isLast,
              autoSkip: false,
              maxRotation: 0,
              padding: 8,
              color: '#000',
              font: { family: 'DejaVu Sans', size: 31 },
              callback: (v: any) => String(v),
            },
          },
          y: {
            type: 'linear',
            min: Y_MIN,
            max: Y_MAX,
            afterBuildTicks: (s: any) => {
              s.ticks = Y_TICKS.map((v) => ({ value: v }));
            },
            afterFit: (s: any) => {
              s.width = AXIS_W;
            },
            border: { display: false },
            grid: { drawOnChartArea: false, drawTicks: true, tickLength: 10, tickWidth: 2, tickColor: '#000' },
            ticks: {
              autoSkip: false,
              padding: 18,
              color: '#000',
              font: { family: 'DejaVu Sans', size: 27 },
              callback: (v: any) => (v < 0 ? '\u2212' + Math.abs(v) : String(v)),
            },
          },
        },
      },
      plugins: [framePlugin],
    } as any);
    return () => chart.destroy();
  }, [index]);

  return (
    <canvas
      ref={ref}
      width={CANVAS_W}
      height={height}
      style={{ position: 'absolute', left: 0, top: panelTop - PAD_T, width: CANVAS_W, height }}
    />
  );
}

export default function App() {
  return (
    <div style={{ position: 'absolute', left: 0, top: 0, width: 1305, height: 691, overflow: 'hidden', background: '#fff' }}>
      {PANEL_TITLES.map((_, i) => (
        <Panel key={i} index={i} />
      ))}
    </div>
  );
}
